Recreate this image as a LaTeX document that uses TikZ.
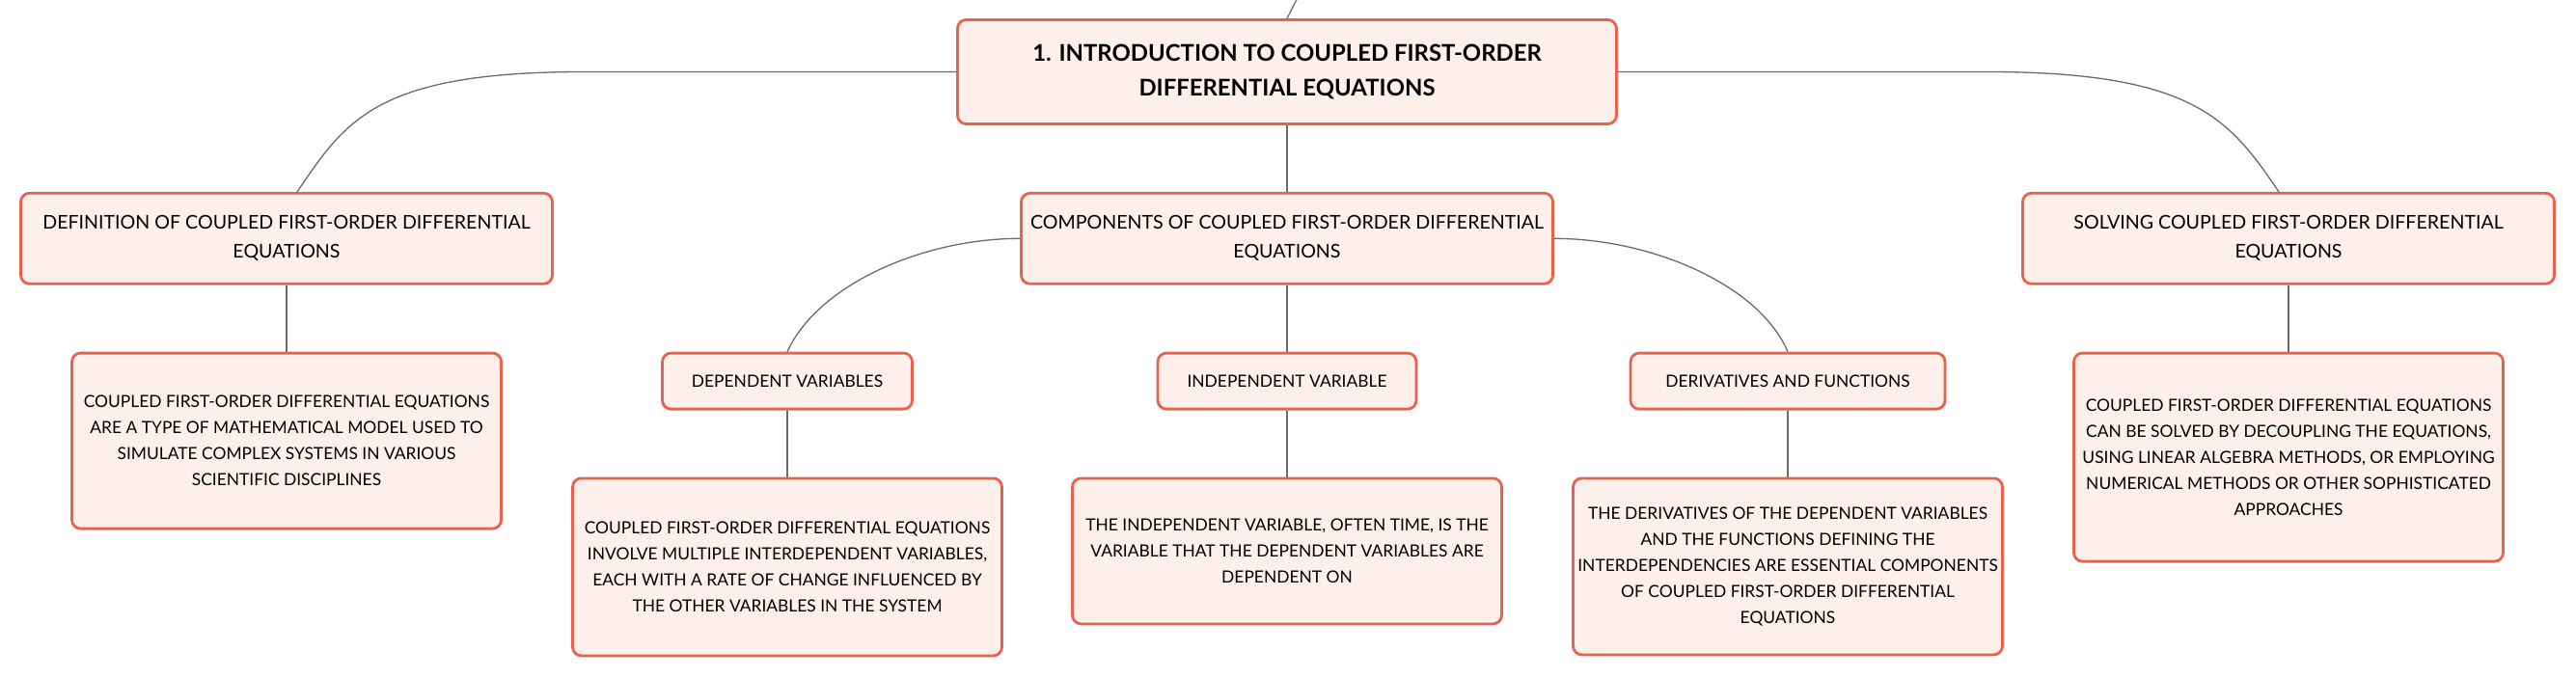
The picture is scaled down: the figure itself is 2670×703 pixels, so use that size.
\documentclass[tikz,border=0pt]{standalone}
\usepackage{fontspec}
\setmainfont{Lato}
\definecolor{boxfill}{HTML}{FDEFEA}
\definecolor{boxline}{HTML}{E8624C}
\definecolor{linkgray}{HTML}{6B6B6B}
\tikzstyle{box}=[rectangle,rounded corners=9pt,draw=boxline,fill=boxfill,line width=2.8pt,align=center,inner sep=0pt,text=black]
\tikzstyle{rootbox}=[box,minimum width=683pt,minimum height=108pt,font=\fontsize{23.9}{36}\selectfont\bfseries]
\tikzstyle{mainbox}=[box,minimum width=551pt,minimum height=94pt,font=\fontsize{19.6}{30}\selectfont]
\tikzstyle{subbox}=[box,minimum height=58pt,font=\fontsize{17.4}{27}\selectfont]
\tikzstyle{detail}=[box,minimum width=445pt,font=\fontsize{17.4}{27}\selectfont]
\tikzstyle{link}=[draw=linkgray,line width=1.3pt]
\usetikzlibrary{calc,positioning}
\newcommand{\drawlinks}[2][\empty]{
	\foreach \a/\b in {#2}{
		\draw[link,#1] (\a.south) -- (\b.north);
	}
}

\begin{document}
\begin{tikzpicture}[x=1pt,y=-1pt,node distance=69pt]
\useasboundingbox (0,0) rectangle (2670,703);
% top level
\node[rootbox] (root) at (1334,74.5) {1. INTRODUCTION TO COUPLED FIRST-ORDER\\DIFFERENTIAL EQUATIONS};
\node[mainbox,below=of root] (comp) {COMPONENTS OF COUPLED FIRST-ORDER DIFFERENTIAL\\EQUATIONS};
\node[mainbox,below=of root,xshift=-1037pt] (def) {DEFINITION OF COUPLED FIRST-ORDER DIFFERENTIAL\\EQUATIONS};
\node[mainbox,below=of root,xshift=1038pt] (solv) {SOLVING COUPLED FIRST-ORDER DIFFERENTIAL\\EQUATIONS};

% components
\node[subbox,below=of comp,minimum width=259pt,xshift=-518pt] (dep) {DEPENDENT VARIABLES};
\node[subbox,below=of comp,minimum width=268pt] (indep) {INDEPENDENT VARIABLE};
\node[subbox,below=of comp,minimum width=326pt,xshift=519pt] (deriv) {DERIVATIVES AND FUNCTIONS};

% details
\node[detail,below=of def,minimum height=182pt] (defd) {COUPLED FIRST-ORDER DIFFERENTIAL EQUATIONS\\ARE A TYPE OF MATHEMATICAL MODEL USED TO\\SIMULATE COMPLEX SYSTEMS IN VARIOUS\\SCIENTIFIC DISCIPLINES};
\node[detail,below=of dep,minimum height=184pt] (depd) {COUPLED FIRST-ORDER DIFFERENTIAL EQUATIONS\\INVOLVE MULTIPLE INTERDEPENDENT VARIABLES,\\EACH WITH A RATE OF CHANGE INFLUENCED BY\\THE OTHER VARIABLES IN THE SYSTEM};
\node[detail,below=of indep,minimum height=151pt] (indepd) {THE INDEPENDENT VARIABLE, OFTEN TIME, IS THE\\VARIABLE THAT THE DEPENDENT VARIABLES ARE\\DEPENDENT ON};
\node[detail,below=of deriv,minimum height=183pt] (derivd) {THE DERIVATIVES OF THE DEPENDENT VARIABLES\\AND THE FUNCTIONS DEFINING THE\\INTERDEPENDENCIES ARE ESSENTIAL COMPONENTS\\OF COUPLED FIRST-ORDER DIFFERENTIAL\\EQUATIONS};
\node[detail,below=of solv,minimum height=216pt] (solvd) {COUPLED FIRST-ORDER DIFFERENTIAL EQUATIONS\\CAN BE SOLVED BY DECOUPLING THE EQUATIONS,\\USING LINEAR ALGEBRA METHODS, OR EMPLOYING\\NUMERICAL METHODS OR OTHER SOPHISTICATED\\APPROACHES};

% connectors
\coordinate (parent) at (1354,-20);
\draw[link] (root.north) -- (parent);
\draw[link] (root.west) -- ++(-386,0) .. controls +(-217,0) and ($(def.north)+(61,-73)$) .. ([xshift=11pt]def.north);
\draw[link] (root.east) -- ++(383,0) .. controls +(217,0) and ($(solv.north)+(-60,-73)$) .. ([xshift=-10pt]solv.north);
\draw[link] (comp.west) .. controls +(-100,0) and ($(dep.north)+(32,-70)$) .. (dep.north);
\draw[link] (comp.east) .. controls +(100,0) and ($(deriv.north)+(-30,-70)$) .. (deriv.north);
\drawlinks{root/comp,def/defd,comp/indep,dep/depd,indep/indepd,deriv/derivd,solv/solvd}
\end{tikzpicture}
\end{document}
